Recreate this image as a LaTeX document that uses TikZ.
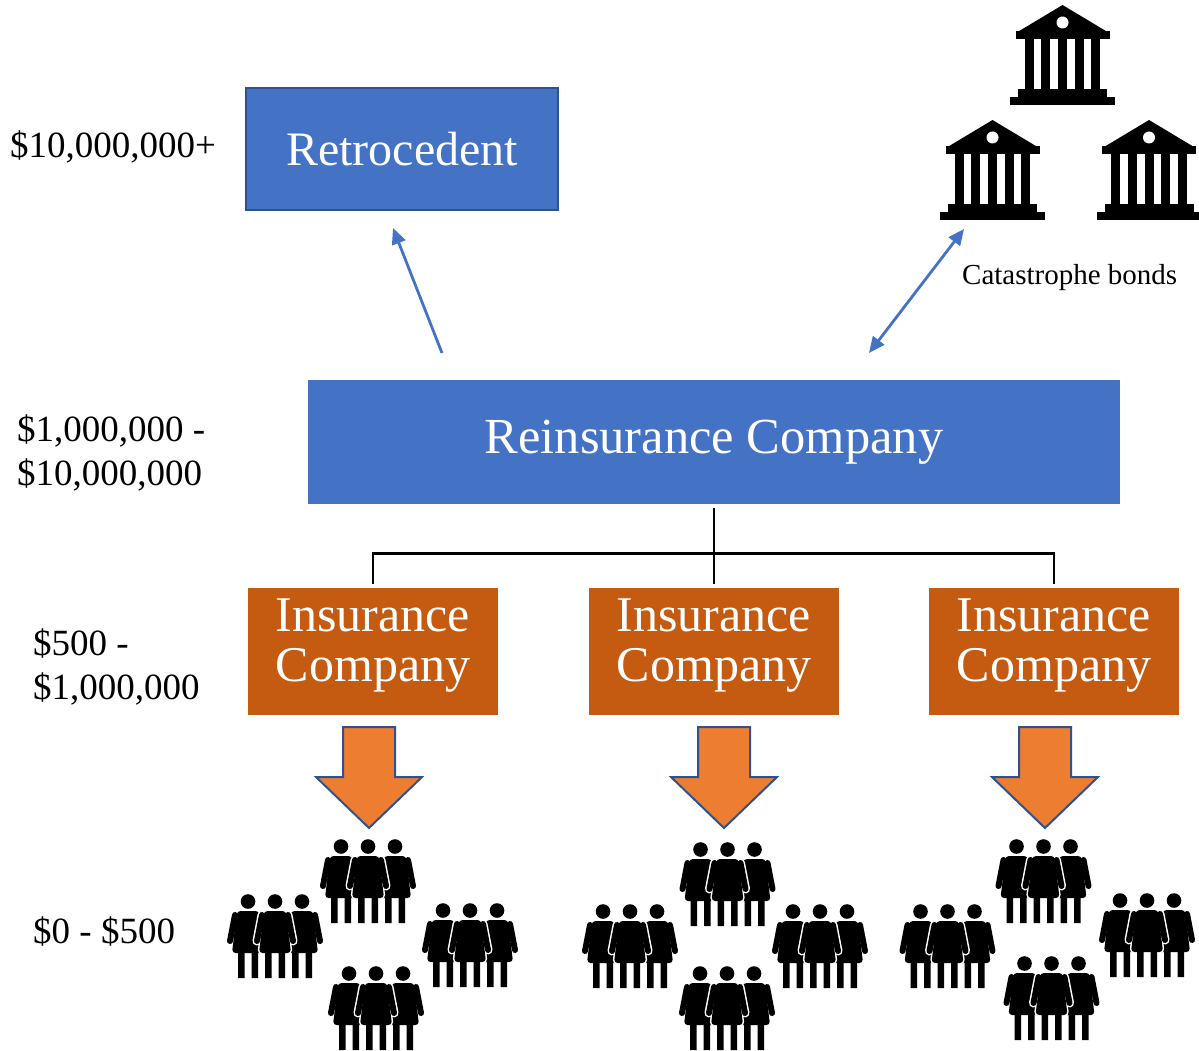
\documentclass[tikz,border=0pt]{standalone}
\usepackage{fontspec}
\setmainfont{Liberation Serif}
\usetikzlibrary{arrows.meta,calc}
\definecolor{boxblue}{HTML}{4472C4}
\definecolor{boxedge}{HTML}{2F528F}
\definecolor{insorange}{HTML}{C55A11}
\definecolor{arroworange}{HTML}{ED7D31}
\tikzset{
  bluebox/.style={fill=boxblue, text=white, inner sep=0pt, font=\fontsize{48}{48}\selectfont},
  insbox/.style={fill=insorange, text=white, inner sep=0pt, minimum width=250pt, minimum height=127pt,
    align=center, font=\fontsize{50}{50}\selectfont, text height=72pt, text depth=11.6pt},
  amount/.style={inner sep=0pt, align=left, font=\fontsize{37}{43.5}\selectfont},
  flow/.style={boxblue, line width=2.8pt, >={Triangle[length=16pt,width=14pt]}},
  tree/.style={black, line width=2.8pt},
  bank/.pic={
    \fill (-52.5,0) rectangle (52.5,-8.3);
    \fill (-44.5,-8) rectangle (44.5,-15.5);
    \foreach \c in {-33.4,-16.7,0,16.7,33.4} {\fill (\c-4.5,-15) rectangle (\c+4.5,-66.5);}
    \fill (-47,-66) rectangle (47,-73.5);
    \fill (-45,-73) -- (0,-100) -- (45,-73) -- cycle;
    \fill[white] (0,-82.5) circle (6pt);
  },
  blockarrow/.pic={
    \filldraw[fill=arroworange, draw=boxedge, line width=2pt, line join=miter]
      (-26,0) -- (26,0) -- (26,50) -- (53,50) -- (0,101) -- (-53,50) -- (-26,50) -- cycle;
  },
  woman/.pic={
    \begin{scope}[white]
      \fill (0,-76.5) circle (8.8pt);
      \filldraw[line width=3pt, rounded corners=3.5pt] (-11,-67) -- (11,-67) -- (16,-25) -- (-16,-25) -- cycle;
      \draw[line width=9pt, line cap=round] (-13,-63) -- (-18,-37) (13,-63) -- (18,-37);
      \filldraw[line width=3pt] (-10,0) rectangle (-3.5,-26) (3.5,0) rectangle (10,-26);
    \end{scope}
    \fill (0,-76.5) circle (7.3pt);
    \fill[rounded corners=3.5pt] (-11,-67) -- (11,-67) -- (16,-25) -- (-16,-25) -- cycle;
    \draw[line width=6pt, line cap=round] (-13,-63) -- (-18,-37) (13,-63) -- (18,-37);
    \fill (-10,0) rectangle (-3.5,-26) (3.5,0) rectangle (10,-26);
  },
  trio/.pic={
    \pic at (-27,0) {woman};
    \pic at (27,0) {woman};
    \pic at (0,0) {woman};
  }
}
\begin{document}
\begin{tikzpicture}[x=1pt,y=-1pt]
\useasboundingbox (0,0) rectangle (1199,1051);

% amounts
\node[amount, anchor=base west] (a1) at (10,158) {\$10,000,000+};
\node[amount, anchor=west] (a2) at (17,453) {\$1,000,000 -\\\$10,000,000};
\node[amount, anchor=west] (a3) at (33,667) {\$500 -\\\$1,000,000};
\node[amount, anchor=base west] (a4) at (33,943) {\$0 - \$500};

% boxes
\node[bluebox, draw=boxedge, line width=1.5pt, minimum width=312pt, minimum height=122pt] (retro) at (402,149) {Retrocedent};
\node[bluebox, font=\fontsize{50.5}{50.5}\selectfont, minimum width=812pt, minimum height=124pt] (rein) at (714,442) {Reinsurance Company};
\node[insbox] (ins1) at (373,651.5) {Insurance\\Company};
\node[insbox] (ins2) at (714,651.5) {Insurance\\Company};
\node[insbox] (ins3) at (1054,651.5) {Insurance\\Company};

% tree
\draw[tree] ([yshift=-4pt]rein.south) -- ([yshift=4pt]ins2.north);
\draw[tree] ([yshift=4pt]ins1.north) -- ++(0,-30) -| ([yshift=4pt]ins3.north);

% banks
\pic (bankT) at (1062.5,105) {bank};
\pic (bankL) at (992.5,220) {bank};
\pic (bankR) at (1149,220) {bank};
\node[inner sep=0pt, anchor=base west, font=\fontsize{29}{29}\selectfont] (cat) at (962,284) {Catastrophe bonds};

% blue arrows
\coordinate (retroTail) at (442,353);
\coordinate (retroTip) at (393,228);
\draw[flow, ->] (retroTail) -- (retroTip);
\coordinate (catTail) at (869,353);
\coordinate (catTip) at (964,229);
\draw[flow, <->] (catTail) -- (catTip);

% block arrows
\pic (down1) at (369,727) {blockarrow};
\pic (down2) at (724,727) {blockarrow};
\pic (down3) at (1045,727) {blockarrow};

% people
\pic (p1a) at (368,923) {trio};
\pic (p1b) at (275,978) {trio};
\pic (p1c) at (470,987) {trio};
\pic (p1d) at (376,1050) {trio};
\pic (p2a) at (727.5,926) {trio};
\pic (p2b) at (630,988) {trio};
\pic (p2c) at (820,988) {trio};
\pic (p2d) at (727,1050) {trio};
\pic (p3a) at (1043.5,923) {trio};
\pic (p3b) at (947.5,988) {trio};
\pic (p3c) at (1147,977) {trio};
\pic (p3d) at (1051.5,1040) {trio};
\end{tikzpicture}
\end{document}
